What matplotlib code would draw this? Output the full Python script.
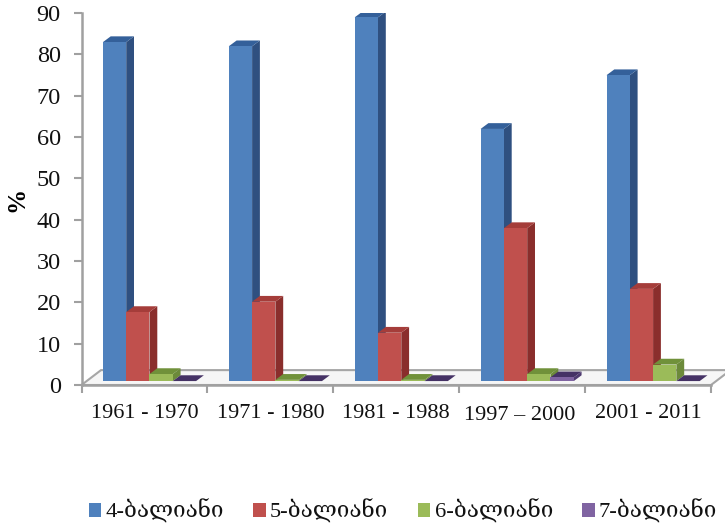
import matplotlib
matplotlib.use("Agg")
import matplotlib.pyplot as plt
from matplotlib.patches import Polygon, Patch

plt.rcParams['font.family'] = ['Liberation Serif', 'DejaVu Serif', 'DejaVu Sans']

periods = ["1961 - 1970", "1971 - 1980", "1981 - 1988", "1997 – 2000", "2001 - 2011"]
series_names = ["4-ბალიანი", "5-ბალიანი", "6-ბალიანი", "7-ბალიანი"]
ball_4 = [82, 81, 88, 61, 74]
ball_5 = [16.7, 19.2, 11.7, 37, 22.3]
ball_6 = [1.7, 0.3, 0.3, 1.7, 4]
ball_7 = [0, 0, 0, 0.9, 0]
yticks = list(range(0, 100, 10))

front_colors = ["#4f81bd", "#c0504d", "#9bbb59", "#8064a2"]
side_colors = ["#2f5080", "#8a2e2c", "#6c8a3a", "#4e3a70"]
top_colors = ["#34609a", "#a53d3a", "#70913a", "#453265"]

W, H = 725, 526
fig = plt.figure(figsize=(W / 100, H / 100), dpi=100)
ax = fig.add_axes([81.5 / W, (H - 385) / H, (711 - 81.5) / W, (385 - 13) / H])
ax.set_xlim(0, 5)
ax.set_ylim(0, 90)

# fake 3d depth, in data units
dx = 0.062
dy = 1.4
base = 0.95
bar_w = 0.185
start = 0.17
floor_dx = 0.155
floor_dy = 3.6


def bar3d(x, v, i):
    y0, y1 = base, base + v
    z = 5 + i
    ax.add_patch(Polygon([(x + bar_w, y0), (x + bar_w + dx, y0 + dy), (x + bar_w + dx, y1 + dy), (x + bar_w, y1)],
                         fc=side_colors[i], ec="none", zorder=z))
    ax.add_patch(Polygon([(x, y1), (x + dx, y1 + dy), (x + bar_w + dx, y1 + dy), (x + bar_w, y1)],
                         fc=top_colors[i], ec="none", zorder=z))
    if v > 0:
        ax.add_patch(Polygon([(x, y0), (x + bar_w, y0), (x + bar_w, y1), (x, y1)],
                             fc=front_colors[i], ec="none", zorder=z))


# floor
ax.add_patch(Polygon([(0, 0), (5, 0), (5 + floor_dx, floor_dy), (floor_dx, floor_dy)],
                     fc="#f6f6f6", ec="#a6a6a6", lw=1.5, zorder=1, clip_on=False))

for i, vals in enumerate([ball_4, ball_5, ball_6, ball_7]):
    for c, v in enumerate(vals):
        bar3d(c + start + i * bar_w, v, i)

for s in ["top", "right"]:
    ax.spines[s].set_visible(False)
for s in ["left", "bottom"]:
    ax.spines[s].set_color("#a0a0a0")
    ax.spines[s].set_linewidth(1.8)
    ax.spines[s].set_zorder(3)

ax.set_yticks(yticks)
ax.set_xticks(range(6))
ax.set_xticklabels([])
ax.tick_params(axis="y", labelsize=17.5, color="#a0a0a0", width=1.5, length=6, pad=9, labelcolor="#111111")
ax.tick_params(axis="x", color="#a0a0a0", width=1.5, length=6)

# 4th label sits a bit lower in the original
label_y = [-6.9, -6.9, -6.9, -7.3, -6.9]
label_shift = [0.0, 0.0, 0.0, -0.02, 0.0]
for c, lab in enumerate(periods):
    ax.text(c + 0.5 + label_shift[c], label_y[c], lab, ha="center", va="center", fontsize=16, color="#111111")

fig.text(17 / W, 1 - 199 / H, "%", rotation=90, ha="center", va="center", fontsize=18, fontweight="bold")

handles = [Patch(fc=col, ec="none") for col in front_colors]
fig.legend(handles, series_names, ncol=4, loc="center", bbox_to_anchor=(403 / W, 1 - 511 / H), frameon=False,
           fontsize=16.2, handlelength=0.55, handleheight=0.55, handletextpad=0.2, columnspacing=1.3,
           labelcolor="#111111", borderpad=0, borderaxespad=0)

fig.savefig("out.png", dpi=100)
